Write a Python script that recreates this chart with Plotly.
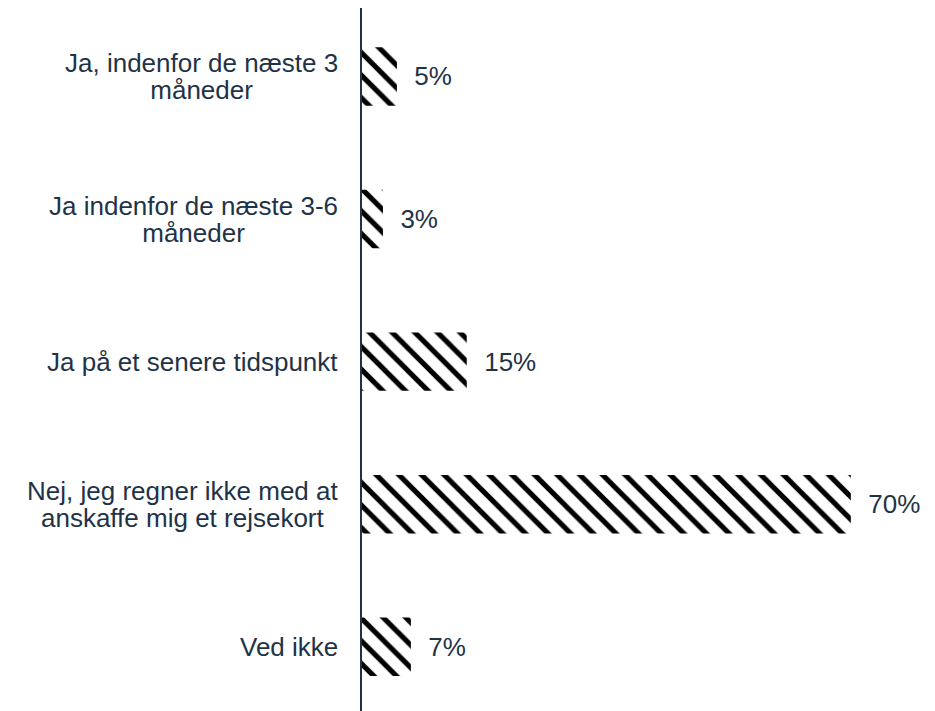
import plotly.graph_objects as go

categories = [
    "Ja, indenfor de næste 3 måneder",
    "Ja indenfor de næste 3-6 måneder",
    "Ja på et senere tidspunkt",
    "Nej, jeg regner ikke med at anskaffe mig et rejsekort",
    "Ved ikke",
]
label_lines = [
    ["Ja, indenfor de næste 3", "måneder"],
    ["Ja indenfor de næste 3-6", "måneder"],
    ["Ja på et senere tidspunkt"],
    ["Nej, jeg regner ikke med at", "anskaffe mig et rejsekort"],
    ["Ved ikke"],
]
values = [5, 3, 15, 70, 7]
value_labels = ["5%", "3%", "15%", "70%", "7%"]

navy = "#1F3347"
font_family = "Liberation Sans, Arial, sans-serif"

fig = go.Figure()
fig.add_bar(
    x=values,
    y=categories,
    orientation="h",
    width=0.41,
    marker=dict(
        color="white",
        line=dict(width=0),
        pattern=dict(shape="\\", fgcolor="black", bgcolor="white", fgopacity=1,
                     size=16, solidity=0.32),
    ),
    text=value_labels,
    texttemplate="  %{text}",
    textposition="outside",
    textfont=dict(family=font_family, size=26, color=navy),
    cliponaxis=False,
    hoverinfo="skip",
)

# category labels: right-aligned block with centred lines; the smaller base font
# keeps the line spacing tight while each line is drawn at 26px
for cat, lines in zip(categories, label_lines):
    text = "<br>".join(f"<span style='font-size:26px'>{l}</span>" for l in lines)
    fig.add_annotation(
        x=0, xref="paper", y=cat, yref="y",
        text=text, showarrow=False,
        xanchor="right", align="center", xshift=-22,
        font=dict(family=font_family, size=21, color=navy),
    )

fig.update_layout(
    width=935, height=711,
    margin=dict(l=354, r=0, t=0, b=8),
    plot_bgcolor="white", paper_bgcolor="white",
    showlegend=False,
    xaxis=dict(range=[0, 83.2], visible=False),
    yaxis=dict(
        categoryorder="array", categoryarray=categories,
        range=[4.45, -0.48],
        showticklabels=False, ticks="",
        showline=True, linecolor=navy, linewidth=2,
        showgrid=False, zeroline=False,
    ),
)

fig.write_html("out.html")
